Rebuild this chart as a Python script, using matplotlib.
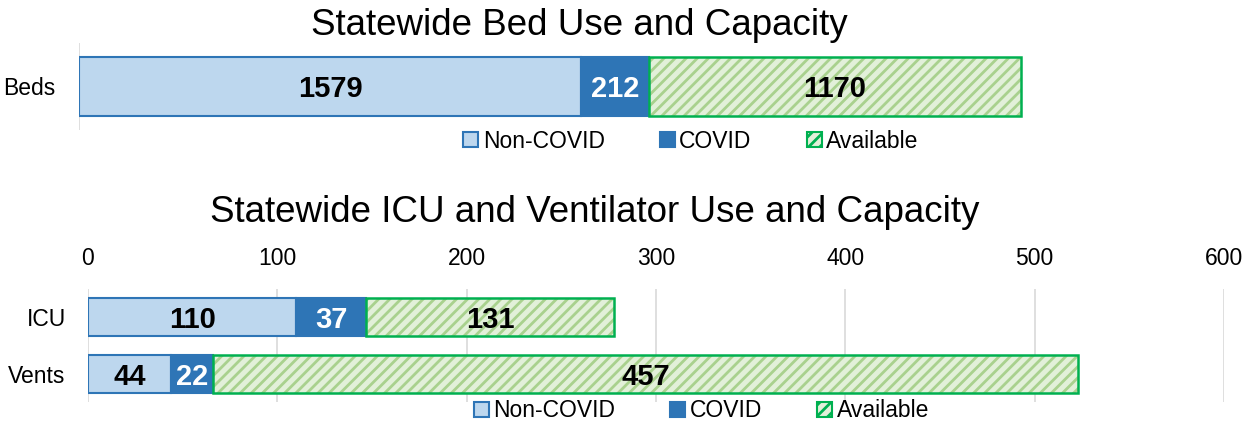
import numpy as np
import matplotlib
matplotlib.use('Agg')
from matplotlib import pyplot as plt
from matplotlib.patches import Patch

''' matplotlib config '''
plt.rcParams['font.family'] = ['Liberation Sans', 'DejaVu Sans']
plt.rcParams['hatch.linewidth'] = 2.0

# data
bed_cats = ['Beds']
bed_noncovid = [1579]
bed_covid = [212]
bed_avail = [1170]

icu_cats = ['ICU', 'Vents']
icu_noncovid = [110, 44]
icu_covid = [37, 22]
icu_avail = [131, 457]

series_names = ['Non-COVID', 'COVID', 'Available']

c_light = '#BDD7EE'
c_dark = '#2E75B6'
c_avail = '#E2F0D9'
c_hatch = '#A9D18E'
c_avail_edge = '#00B050'
c_grid = '#D9D9D9'


def stacked(ax, cats, noncov, cov, avail, h):
  y = np.arange(len(cats))
  noncov = np.asarray(noncov)
  cov = np.asarray(cov)
  avail = np.asarray(avail)
  ax.barh(y, noncov, height=h, color=c_light, edgecolor=c_dark, linewidth=1.5, zorder=3)
  ax.barh(y, cov, left=noncov, height=h, color=c_dark, edgecolor=c_dark, linewidth=1.5, zorder=3)
  ax.barh(y, avail, left=noncov + cov, height=h, color=c_avail, edgecolor=c_hatch,
          hatch='///', linewidth=0, zorder=3)
  ax.barh(y, avail, left=noncov + cov, height=h, fill=False, edgecolor=c_avail_edge,
          linewidth=1.8, zorder=4)
  for i in range(len(cats)):
    ax.text(noncov[i] / 2, y[i], str(noncov[i]), ha='center', va='center_baseline',
            fontsize=21, fontweight='bold', color='black', zorder=5)
    ax.text(noncov[i] + cov[i] / 2, y[i], str(cov[i]), ha='center', va='center_baseline',
            fontsize=21, fontweight='bold', color='white', zorder=5)
    ax.text(noncov[i] + cov[i] + avail[i] / 2, y[i], str(avail[i]), ha='center', va='center_baseline',
            fontsize=21, fontweight='bold', color='black', zorder=5)
  ax.set_yticks(y)
  ax.set_yticklabels(cats, fontsize=16.5)
  ax.set_ylim(len(cats) - 0.5, -0.5)
  for s in ax.spines.values():
    s.set_visible(False)
  ax.tick_params(axis='both', length=0)


def legend_handles():
  return [Patch(facecolor=c_light, edgecolor=c_dark, linewidth=1.5),
          Patch(facecolor=c_dark, edgecolor=c_dark, linewidth=1.5),
          Patch(facecolor=c_avail, edgecolor=c_avail_edge, hatch='///', linewidth=1.5)]


fig = plt.figure(figsize=(12.46, 4.24), dpi=100)

# top chart
ax1 = fig.add_axes([0.0634, 0.6934, 0.9189, 0.2052])
stacked(ax1, bed_cats, bed_noncovid, bed_covid, bed_avail, 0.68)
ax1.set_xlim(0, 3600)
ax1.set_xticks([0])
ax1.set_xticklabels([])
ax1.grid(axis='x', color=c_grid, linewidth=1.2, zorder=0)
ax1.tick_params(axis='y', pad=17)
fig.text(0.465, 0.94, 'Statewide Bed Use and Capacity', ha='center', va='center', fontsize=26.5)
fig.legend(legend_handles(), series_names, loc='center', bbox_to_anchor=(0.5545, 0.667),
           ncol=3, frameon=False, fontsize=16.5, handlelength=0.65, handleheight=0.65,
           handletextpad=0.2, columnspacing=2.4, borderpad=0)

# bottom chart
ax2 = fig.add_axes([0.0706, 0.0519, 0.9117, 0.2665])
stacked(ax2, icu_cats, icu_noncovid, icu_covid, icu_avail, 0.68)
ax2.set_xlim(0, 600)
ax2.set_xticks(np.arange(0, 601, 100))
ax2.xaxis.tick_top()
ax2.tick_params(axis='x', labelsize=16.5, pad=13.5)
ax2.grid(axis='x', color=c_grid, linewidth=1.2, zorder=0)
ax2.tick_params(axis='y', pad=16)
fig.text(0.477, 0.50, 'Statewide ICU and Ventilator Use and Capacity', ha='center', va='center', fontsize=26.5)
fig.legend(legend_handles(), series_names, loc='center', bbox_to_anchor=(0.563, 0.031),
           ncol=3, frameon=False, fontsize=16.5, handlelength=0.65, handleheight=0.65,
           handletextpad=0.2, columnspacing=2.4, borderpad=0)

plt.savefig('out.png', dpi=100)
